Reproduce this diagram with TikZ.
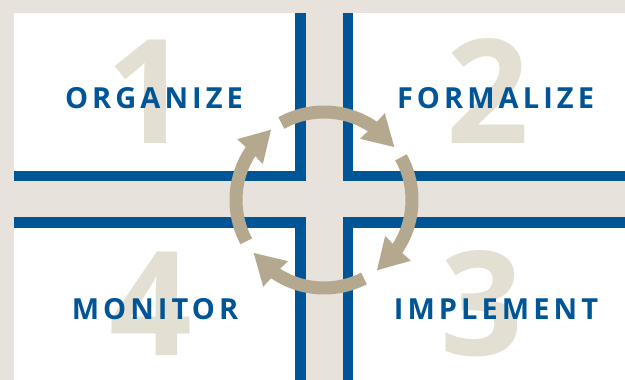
\documentclass[tikz,border=0pt]{standalone}
\usepackage{fontspec}
\setmainfont{Open Sans}
\newfontfamily\stagefont[LetterSpace=14]{Open Sans}
\usetikzlibrary{calc}
\usetikzlibrary{positioning,arrows.meta}

\definecolor{bgbeige}{HTML}{E8E2DC}
\definecolor{barblue}{HTML}{005596}
\definecolor{cycletan}{HTML}{B4A88F}
\definecolor{digitgrey}{HTML}{E4DFD3}

\begin{document}
\begin{tikzpicture}[x=1pt, y=1pt,
    panel/.style={rectangle, fill=white, inner sep=0pt, anchor=south west},
    bar/.style={line width=10.8pt, barblue, line join=miter},
    digit/.style={inner sep=0pt, text=digitgrey, font=\fontsize{145}{145}\selectfont\bfseries},
    stage/.style={inner sep=0pt, text=barblue, font=\fontsize{29}{29}\selectfont\stagefont\bfseries},
    cyclering/.style={line width=13pt, cycletan}]
        \useasboundingbox (0,0) rectangle (625,380);
        \fill[bgbeige] (0,0) rectangle (625,380);

        %% Panels
        \node[panel, minimum width=291.5pt, minimum height=168.5pt] (TL) at (14,198.5) {};
        \node[panel, minimum width=282.5pt, minimum height=168.5pt] (TR) at (342.5,198.5) {};
        \node[panel, minimum width=291.5pt, minimum height=162.5pt] (BL) at (14,0) {};
        \node[panel, minimum width=282.5pt, minimum height=162.5pt] (BR) at (342.5,0) {};

        %% Blue corners
        \draw[bar] ([xshift=-5.4pt]TL.north east) |- ([yshift=5.4pt]TL.south west);
        \draw[bar] ([xshift=5.4pt]TR.north west) |- ([yshift=5.4pt]TR.south east);
        \draw[bar] ([yshift=-5.4pt]BL.north west) -| ([xshift=-5.4pt]BL.south east);
        \draw[bar] ([yshift=-5.4pt]BR.north east) -| ([xshift=5.4pt]BR.south west);

        %% Step numbers
        \node[digit] (n1) at (148,288.3) {1};
        \node[digit] (n2) at (487.5,289) {2};
        \node[digit] (n3) at (481.7,76.7) {3};
        \node[digit] (n4) at (151,76) {4};

        %% Step names
        \node[stage] (org) at (154,281.8) {ORGANIZE};
        \node[stage] (frm) at (495.5,281.8) {FORMALIZE};
        \node[stage] (imp) at (496,70.8) {IMPLEMENT};
        \node[stage] (mon) at (155,70.8) {MONITOR};

        %% Cycle: four arcs, each with its head
        \coordinate (C) at (324,180);
        \foreach \a/\b in {119/37, 29/-53, -63/-143, -152/-233} {
            \draw[cyclering] ($(C)+(\a:88)$) arc[start angle=\a, end angle=\b+14, radius=88];
            \fill[cycletan] ($(C)+(\b:88)$) -- ($(C)+({\b+18}:106)$) -- ($(C)+({\b+19.5}:88)$)
                -- ($(C)+({\b+22.5}:71)$) -- cycle;
        }
\end{tikzpicture}
\end{document}
